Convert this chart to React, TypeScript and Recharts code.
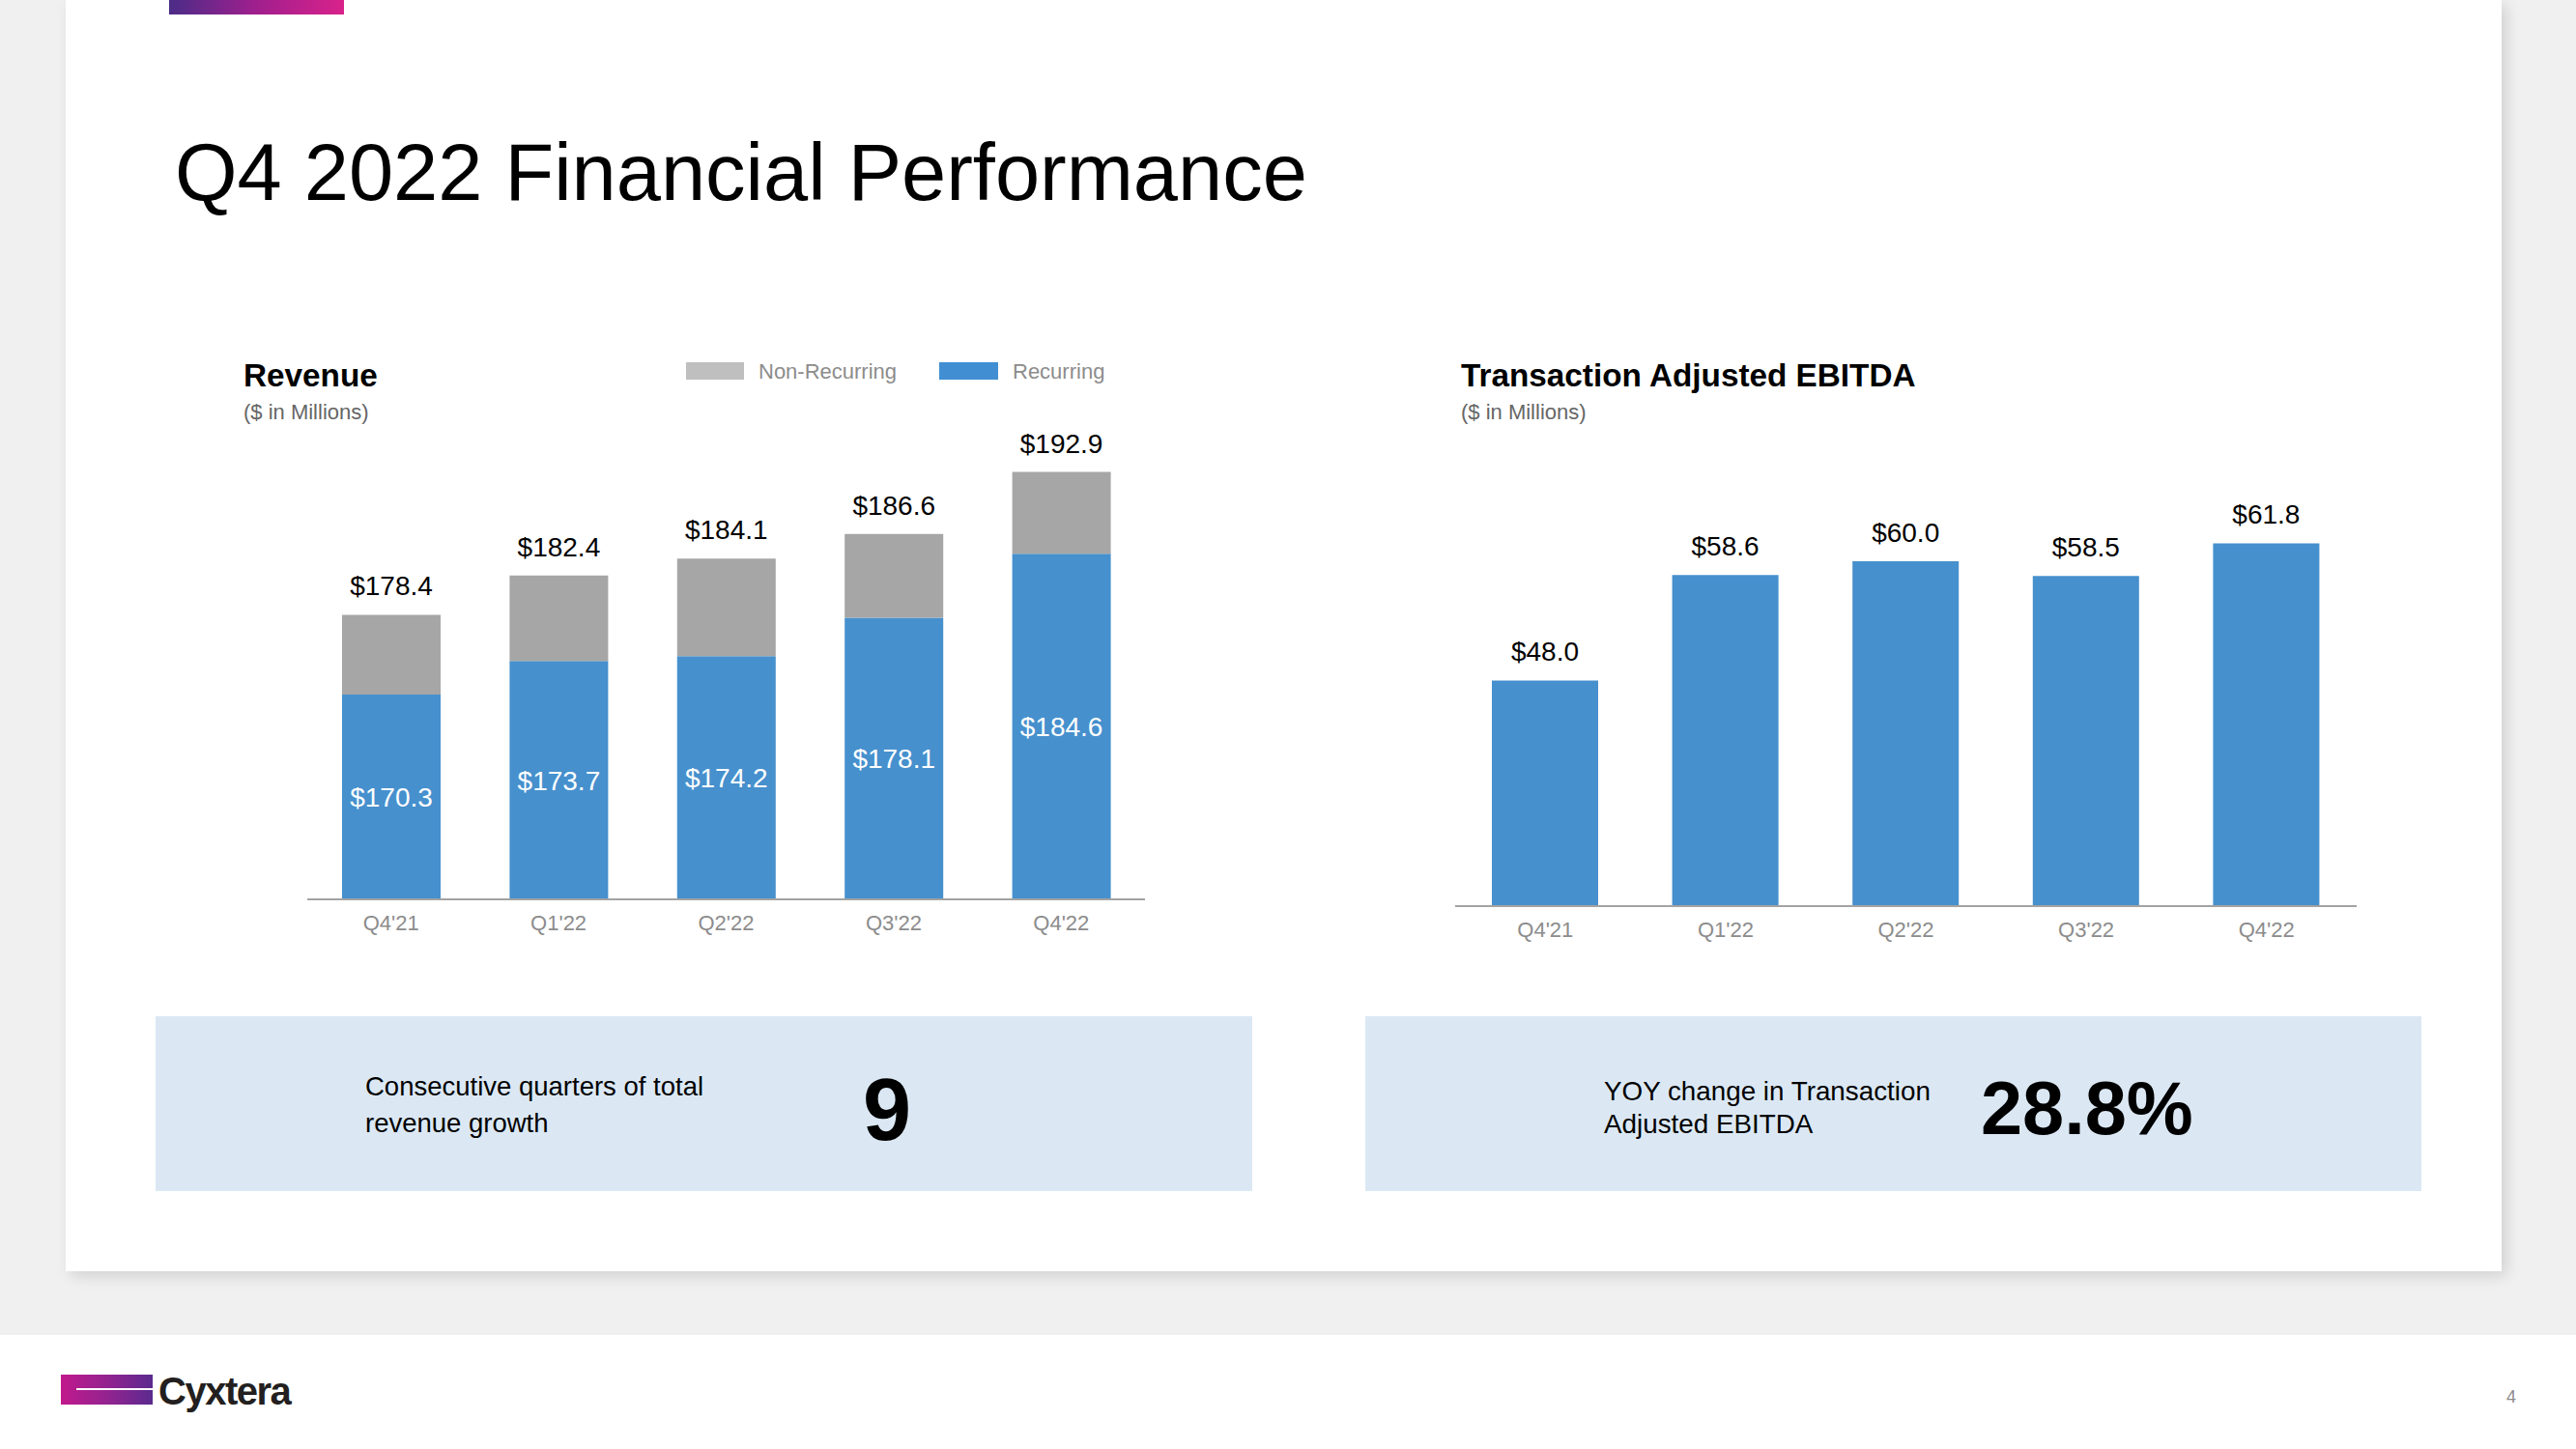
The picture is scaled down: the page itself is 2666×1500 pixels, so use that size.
import React from "react";
import { Bar, BarChart, LabelList, XAxis, YAxis } from "recharts";

const QUARTERS = ["Q4'21", "Q1'22", "Q2'22", "Q3'22", "Q4'22"];
const RECURRING = [170.3, 173.7, 174.2, 178.1, 184.6];
const REVENUE_TOTAL = [178.4, 182.4, 184.1, 186.6, 192.9];
const EBITDA = [48.0, 58.6, 60.0, 58.5, 61.8];

const FONT = "'Liberation Sans', Arial, Helvetica, sans-serif";
const BLUE = "#4690cd";
const GRAY = "#a6a6a6";
const AXIS_GRAY = "#a3a3a3";
const TICK_GRAY = "#8c8c8c";

const revenueData = QUARTERS.map((q, i) => ({
  quarter: q,
  recurring: RECURRING[i],
  nonRecurring: +(REVENUE_TOTAL[i] - RECURRING[i]).toFixed(1),
  total: REVENUE_TOTAL[i],
}));

const ebitdaData = QUARTERS.map((q, i) => ({ quarter: q, ebitda: EBITDA[i] }));

// layout of the two charts
const REV_H = 600;
const EB_H = 607;
const X_AXIS_H = 69;

function Txt({
  x,
  base,
  size,
  children,
  bold,
  color = "#000",
  style,
}: {
  x: number;
  base: number;
  size: number;
  children: React.ReactNode;
  bold?: boolean;
  color?: string;
  style?: React.CSSProperties;
}) {
  return (
    <div
      style={{
        position: "absolute",
        left: x,
        top: base - 0.8465 * size,
        fontSize: size,
        lineHeight: `${size}px`,
        fontWeight: bold ? 700 : 400,
        color,
        whiteSpace: "nowrap",
        fontFamily: FONT,
        ...style,
      }}
    >
      {children}
    </div>
  );
}

const Tick = (props: any) => {
  const { x, y, payload } = props;
  return (
    <text
      x={x}
      y={y + 24}
      textAnchor="middle"
      fill={TICK_GRAY}
      fontSize={22}
      fontFamily={FONT}
    >
      {payload.value}
    </text>
  );
};

const money = (v: number) => `$${v.toFixed(1)}`;

function RevenueChart() {
  const plotBottom = REV_H - X_AXIS_H;
  return (
    <BarChart
      width={867}
      height={REV_H}
      data={revenueData}
      margin={{ top: 57, right: 0, bottom: 0, left: 0 }}
      barCategoryGap={0}
    >
      <XAxis
        dataKey="quarter"
        height={X_AXIS_H}
        tickLine={false}
        axisLine={{ stroke: AXIS_GRAY, strokeWidth: 2 }}
        tick={<Tick />}
        interval={0}
      />
      <YAxis hide domain={[149.5, 196]} allowDataOverflow />
      <Bar
        dataKey="recurring"
        stackId="rev"
        fill={BLUE}
        barSize={102}
        isAnimationActive={false}
      >
        <LabelList
          dataKey="recurring"
          content={(p: any) => (
            <text
              x={p.x + p.width / 2}
              y={(p.y + plotBottom) / 2 + 10}
              textAnchor="middle"
              fill="#ffffff"
              fontSize={28}
              fontFamily={FONT}
            >
              {money(RECURRING[p.index])}
            </text>
          )}
        />
      </Bar>
      <Bar
        dataKey="nonRecurring"
        stackId="rev"
        fill={GRAY}
        barSize={102}
        isAnimationActive={false}
      >
        <LabelList
          dataKey="nonRecurring"
          content={(p: any) => (
            <text
              x={p.x + p.width / 2}
              y={p.y - 20}
              textAnchor="middle"
              fill="#000"
              fontSize={28}
              fontFamily={FONT}
            >
              {money(REVENUE_TOTAL[p.index])}
            </text>
          )}
        />
      </Bar>
    </BarChart>
  );
}

function EbitdaChart() {
  return (
    <BarChart
      width={933}
      height={EB_H}
      data={ebitdaData}
      margin={{ top: 78, right: 0, bottom: 0, left: 0 }}
      barCategoryGap={0}
    >
      <XAxis
        dataKey="quarter"
        height={X_AXIS_H}
        tickLine={false}
        axisLine={{ stroke: AXIS_GRAY, strokeWidth: 2 }}
        tick={<Tick />}
        interval={0}
      />
      <YAxis hide domain={[25.3, 70]} allowDataOverflow />
      <Bar dataKey="ebitda" fill={BLUE} barSize={110} isAnimationActive={false}>
        <LabelList
          dataKey="ebitda"
          content={(p: any) => (
            <text
              x={p.x + p.width / 2}
              y={p.y - 20}
              textAnchor="middle"
              fill="#000"
              fontSize={28}
              fontFamily={FONT}
            >
              {money(EBITDA[p.index])}
            </text>
          )}
        />
      </Bar>
    </BarChart>
  );
}

export default function App() {
  return (
    <div
      style={{
        position: "absolute",
        left: 0,
        top: 0,
        width: 2666,
        height: 1500,
        background: "#f0f0f0",
        overflow: "hidden",
        fontFamily: FONT,
      }}
    >
      {/* slide */}
      <div
        style={{
          position: "absolute",
          left: 68,
          top: 0,
          width: 2521,
          height: 1316,
          background: "#fff",
          boxShadow: "5px 5px 14px rgba(0,0,0,0.13)",
        }}
      />
      <div
        style={{
          position: "absolute",
          left: 175,
          top: 0,
          width: 181,
          height: 15,
          background: "linear-gradient(90deg, #4b2c87 0%, #a01f8e 50%, #d9228b 100%)",
        }}
      />
      <Txt x={181} base={207} size={83}>
        Q4 2022 Financial Performance
      </Txt>

      {/* revenue */}
      <Txt x={252} base={400} size={33.3} bold>
        Revenue
      </Txt>
      <Txt x={252} base={435} size={22} color="#666">
        ($ in Millions)
      </Txt>
      <div
        style={{ position: "absolute", left: 710, top: 375, width: 60, height: 18, background: "#bfbfbf" }}
      />
      <Txt x={785} base={393} size={22} color={TICK_GRAY}>
        Non-Recurring
      </Txt>
      <div
        style={{ position: "absolute", left: 972, top: 375, width: 61, height: 18, background: "#418fd2" }}
      />
      <Txt x={1048} base={393} size={22} color={TICK_GRAY}>
        Recurring
      </Txt>
      <div style={{ position: "absolute", left: 318, top: 400 }}>
        <RevenueChart />
      </div>

      {/* ebitda */}
      <Txt x={1512} base={400} size={33.3} bold>
        Transaction Adjusted EBITDA
      </Txt>
      <Txt x={1512} base={435} size={22} color="#666">
        ($ in Millions)
      </Txt>
      <div style={{ position: "absolute", left: 1506, top: 400 }}>
        <EbitdaChart />
      </div>

      {/* stat boxes */}
      <div
        style={{ position: "absolute", left: 161, top: 1052, width: 1135, height: 181, background: "#dbe8f4" }}
      />
      <Txt x={378} base={1134} size={27.5}>
        Consecutive quarters of total
      </Txt>
      <Txt x={378} base={1172} size={27.5}>
        revenue growth
      </Txt>
      <Txt x={893} base={1180} size={90} bold>
        9
      </Txt>

      <div
        style={{ position: "absolute", left: 1413, top: 1052, width: 1093, height: 181, background: "#dbe8f4" }}
      />
      <Txt x={1660} base={1140} size={27.8}>
        YOY change in Transaction
      </Txt>
      <Txt x={1660} base={1174} size={27.8}>
        Adjusted EBITDA
      </Txt>
      <Txt x={2050} base={1175} size={77.5} bold>
        28.8%
      </Txt>

      {/* footer */}
      <div
        style={{ position: "absolute", left: 0, top: 1382, width: 2666, height: 118, background: "#fff" }}
      />
      <div
        style={{
          position: "absolute",
          left: 63,
          top: 1423,
          width: 95,
          height: 31,
          background: "linear-gradient(90deg, #c1198c 0%, #8f2490 55%, #5a2a8e 100%)",
        }}
      />
      <div style={{ position: "absolute", left: 79, top: 1437, width: 79, height: 2, background: "#fff" }} />
      <Txt x={164} base={1454} size={40} bold color="#231f20" style={{ letterSpacing: -1.5 }}>
        Cyxtera
      </Txt>
      <Txt x={2594} base={1452} size={18} color="#8c8c8c">
        4
      </Txt>
    </div>
  );
}
